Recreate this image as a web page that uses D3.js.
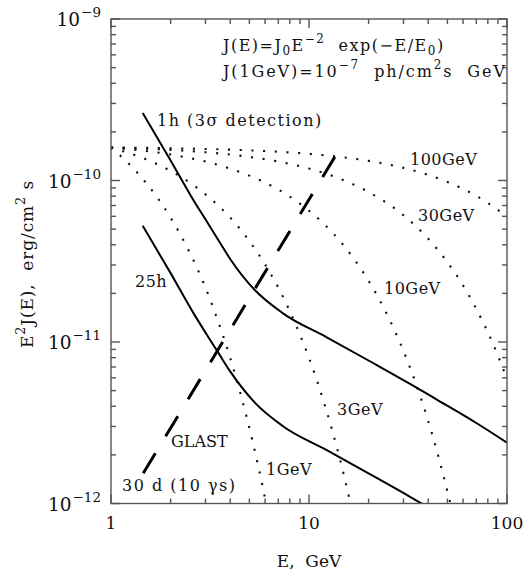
<!DOCTYPE html>
<html>
<head>
<meta charset="utf-8">
<script src="https://cdn.jsdelivr.net/npm/d3@7"></script>
<style>
  html, body { margin: 0; padding: 0; background: #fff; }
  svg { display: block; }
  text { font-family: "DejaVu Serif", serif; fill: #111; }
</style>
</head>
<body>
<svg id="chart" width="525" height="572"></svg>
<script>
// Axis ranges: photon energy (GeV) and E^2 J(E) (erg/cm^2 s)
const energyDomain = [1, 100];
const fluxDomain = [1e-12, 1e-9];
const energyTickValues = [1, 10, 100];
const energyTickLabels = ["1", "10", "100"];
const fluxTickExponents = [-12, -11, -10, -9];

// Spectra J(E) = J0 E^-2 exp(-E/E0), normalised to J(1 GeV) = 1e-7 ph/cm^2 s GeV
// pairs are [E (GeV), E^2 J(E) (erg/cm^2 s)]
const cutoff1GeV = [
  [1, 1.60e-10], [1.25, 1.246e-10], [1.5, 9.70e-11], [1.75, 7.56e-11], [2, 5.89e-11],
  [2.5, 3.57e-11], [3, 2.17e-11], [3.5, 1.31e-11], [4, 7.97e-12], [4.5, 4.83e-12],
  [5, 2.93e-12], [5.5, 1.78e-12], [6.07, 1.0e-12], [6.5, 6.5e-13]
];
const cutoff3GeV = [
  [1, 1.60e-10], [1.5, 1.354e-10], [2, 1.146e-10], [3, 8.21e-11], [4, 5.89e-11],
  [5, 4.22e-11], [6, 3.02e-11], [7, 2.17e-11], [8, 1.55e-11], [9, 1.11e-11],
  [10, 7.97e-12], [11, 5.71e-12], [12, 4.09e-12], [13, 2.93e-12], [14, 2.10e-12],
  [15, 1.50e-12], [16.2, 1.0e-12], [17, 7.7e-13]
];
const cutoff10GeV = [
  [1, 1.60e-10], [2, 1.448e-10], [3, 1.310e-10], [4, 1.185e-10], [5, 1.072e-10],
  [6, 9.70e-11], [8, 7.95e-11], [10, 6.50e-11], [12, 5.33e-11], [15, 3.95e-11],
  [20, 2.39e-11], [25, 1.45e-11], [30, 8.80e-12], [35, 5.34e-12], [40, 3.24e-12],
  [45, 1.96e-12], [50, 1.19e-12], [52, 9.76e-13]
];
const cutoff30GeV = [
  [1, 1.60e-10], [2, 1.548e-10], [3, 1.497e-10], [5, 1.400e-10], [7, 1.310e-10],
  [10, 1.185e-10], [15, 1.003e-10], [20, 8.49e-11], [30, 6.09e-11], [40, 4.36e-11],
  [50, 3.12e-11], [60, 2.24e-11], [70, 1.60e-11], [80, 1.15e-11], [90, 8.23e-12],
  [100, 5.90e-12]
];
const cutoff100GeV = [
  [1, 1.60e-10], [2, 1.584e-10], [3, 1.568e-10], [5, 1.537e-10], [7, 1.507e-10],
  [10, 1.462e-10], [15, 1.391e-10], [20, 1.323e-10], [30, 1.197e-10], [40, 1.083e-10],
  [50, 9.80e-11], [60, 8.87e-11], [70, 8.03e-11], [80, 7.26e-11], [90, 6.57e-11],
  [100, 5.95e-11]
];

// Detection thresholds: 1 h (3 sigma) and 25 h exposures
const sens1h = [
  [1.446, 2.62e-10], [2.0, 1.33e-10], [2.6, 7.6e-11], [3.02, 5.67e-11], [3.5, 4.24e-11],
  [3.99, 3.28e-11], [5.34, 2.09e-11], [7.42, 1.50e-11], [12.29, 1.07e-11],
  [20.3, 7.6e-12], [32.4, 5.5e-12], [44.2, 4.4e-12], [70, 3.15e-12], [100, 2.38e-12]
];
const sens25h = [
  [1.446, 5.24e-11], [2.0, 2.67e-11], [2.6, 1.52e-11], [3.02, 1.13e-11], [3.5, 8.5e-12],
  [3.99, 6.6e-12], [5.34, 4.2e-12], [7.42, 3.0e-12], [12.29, 2.14e-12],
  [20.3, 1.52e-12], [32.4, 1.1e-12], [44.2, 8.8e-13]
];
// GLAST, 30 days, 10 photons
const glast30d = [[1.446, 1.52e-12], [13.5, 1.40e-10]];

const svg = d3.select("#chart");
const plot = { left: 111, right: 507, top: 19, bottom: 503.5 };

const x = d3.scaleLog().domain(energyDomain).range([plot.left, plot.right]);
const y = d3.scaleLog().domain(fluxDomain).range([plot.bottom, plot.top]);

svg.append("defs").append("clipPath").attr("id", "plotClip")
  .append("rect")
  .attr("x", plot.left).attr("y", plot.top)
  .attr("width", plot.right - plot.left).attr("height", plot.bottom - plot.top);

const line = d3.line()
  .x(d => x(d[0]))
  .y(d => y(d[1]))
  .curve(d3.curveMonotoneX);

const curves = svg.append("g").attr("clip-path", "url(#plotClip)");

// dotted cutoff spectra
[cutoff1GeV, cutoff3GeV, cutoff10GeV, cutoff30GeV, cutoff100GeV].forEach(series => {
  curves.append("path")
    .attr("d", line(series))
    .attr("fill", "none")
    .attr("stroke", "#111")
    .attr("stroke-width", 2.1)
    .attr("stroke-dasharray", "2.1,9.6");
});

// solid threshold curves
[sens1h, sens25h].forEach(series => {
  curves.append("path")
    .attr("d", line(series))
    .attr("fill", "none")
    .attr("stroke", "#000")
    .attr("stroke-width", 2);
});

// long-dashed GLAST line, dash pattern starting at the high-energy end
curves.append("path")
  .attr("d", d3.line().x(d => x(d[0])).y(d => y(d[1]))(glast30d.slice().reverse()))
  .attr("fill", "none")
  .attr("stroke", "#000")
  .attr("stroke-width", 3)
  .attr("stroke-dasharray", "23.5,19.8");

// frame and inward ticks on all four sides
const axisColor = "#555";
const frame = svg.append("g").attr("stroke", axisColor).attr("stroke-width", 1.4).attr("fill", "none");
frame.append("rect")
  .attr("x", plot.left).attr("y", plot.top)
  .attr("width", plot.right - plot.left).attr("height", plot.bottom - plot.top);

const isMajor = v => Math.abs(Math.log10(v) - Math.round(Math.log10(v))) < 1e-6;

x.ticks().forEach(v => {
  const len = isMajor(v) ? 9 : 5;
  const px = x(v);
  frame.append("line").attr("x1", px).attr("x2", px).attr("y1", plot.bottom).attr("y2", plot.bottom - len);
  frame.append("line").attr("x1", px).attr("x2", px).attr("y1", plot.top).attr("y2", plot.top + len);
});
y.ticks().forEach(v => {
  const len = isMajor(v) ? 9 : 5;
  const py = y(v);
  frame.append("line").attr("y1", py).attr("y2", py).attr("x1", plot.left).attr("x2", plot.left + len);
  frame.append("line").attr("y1", py).attr("y2", py).attr("x1", plot.right).attr("x2", plot.right - len);
});

// x tick labels
energyTickValues.forEach((v, i) => {
  svg.append("text")
    .attr("x", x(v)).attr("y", 528.5)
    .attr("text-anchor", "middle")
    .attr("font-size", 17)
    .text(energyTickLabels[i]);
});

// y tick labels, 10 with superscript exponent
fluxTickExponents.forEach(p => {
  const t = svg.append("text")
    .attr("x", 101).attr("y", y(Math.pow(10, p)) + 7)
    .attr("text-anchor", "end")
    .attr("font-size", 18.5);
  t.append("tspan").text("10");
  t.append("tspan").attr("font-size", 13.5).attr("dy", -9).attr("dx", 1).text("\u2212" + Math.abs(p));
});

// rich text helper: segments with optional sup/sub
function richText(g, px, py, size, segments, extra) {
  const t = g.append("text").attr("x", px).attr("y", py).attr("font-size", size);
  if (extra) extra(t);
  let shift = 0;
  segments.forEach(s => {
    let target = 0, fs = size;
    if (s.sup) { target = -0.5 * size; fs = 0.75 * size; }
    if (s.sub) { target = 0.28 * size; fs = 0.75 * size; }
    t.append("tspan")
      .attr("dy", target - shift)
      .attr("font-size", fs)
      .attr("xml:space", "preserve")
      .text(s.t);
    shift = target;
  });
  return t;
}

// axis titles
svg.append("text")
  .attr("x", 309).attr("y", 567)
  .attr("text-anchor", "middle")
  .attr("font-size", 17)
  .attr("xml:space", "preserve")
  .text("E,  GeV");

const yTitle = svg.append("g").attr("transform", "translate(33,264) rotate(-90)");
richText(yTitle, 0, 0, 17, [
  { t: "E" }, { t: "2", sup: true }, { t: "J(E),  erg/cm" }, { t: "2", sup: true }, { t: " s" }
], t => t.attr("text-anchor", "middle").attr("letter-spacing", 0.9));

// spectrum definition
richText(svg, 223, 51, 16, [
  { t: "J(E)=J" }, { t: "0", sub: true }, { t: "E" }, { t: "\u22122", sup: true },
  { t: "  exp(\u2212E/E" }, { t: "0", sub: true }, { t: ")" }
], t => t.attr("letter-spacing", 1.5));
richText(svg, 223, 77, 16, [
  { t: "J(1GeV)=10" }, { t: "\u22127", sup: true }, { t: "  ph/cm" }, { t: "2", sup: true },
  { t: "s  GeV" }
], t => t.attr("letter-spacing", 1.9));

// curve labels: [text, x, baseline y, letter spacing]
const labels = [
  ["1h (3\u03c3 detection)", 157, 126, 1.5],
  ["100GeV", 410, 165, 0.5],
  ["30GeV", 418, 221, 0.5],
  ["10GeV", 384, 294, 0.5],
  ["25h", 135, 287, 0.5],
  ["3GeV", 337, 415, 0.5],
  ["1GeV", 266, 475, 0.5],
  ["GLAST", 171, 447, 0],
  ["30 d (10 \u03b3s)", 122, 491, 1.5]
];
labels.forEach(([s, px, py, ls]) => {
  svg.append("text")
    .attr("x", px).attr("y", py)
    .attr("font-size", 16)
    .attr("letter-spacing", ls)
    .attr("xml:space", "preserve")
    .text(s);
});
</script>
</body>
</html>
